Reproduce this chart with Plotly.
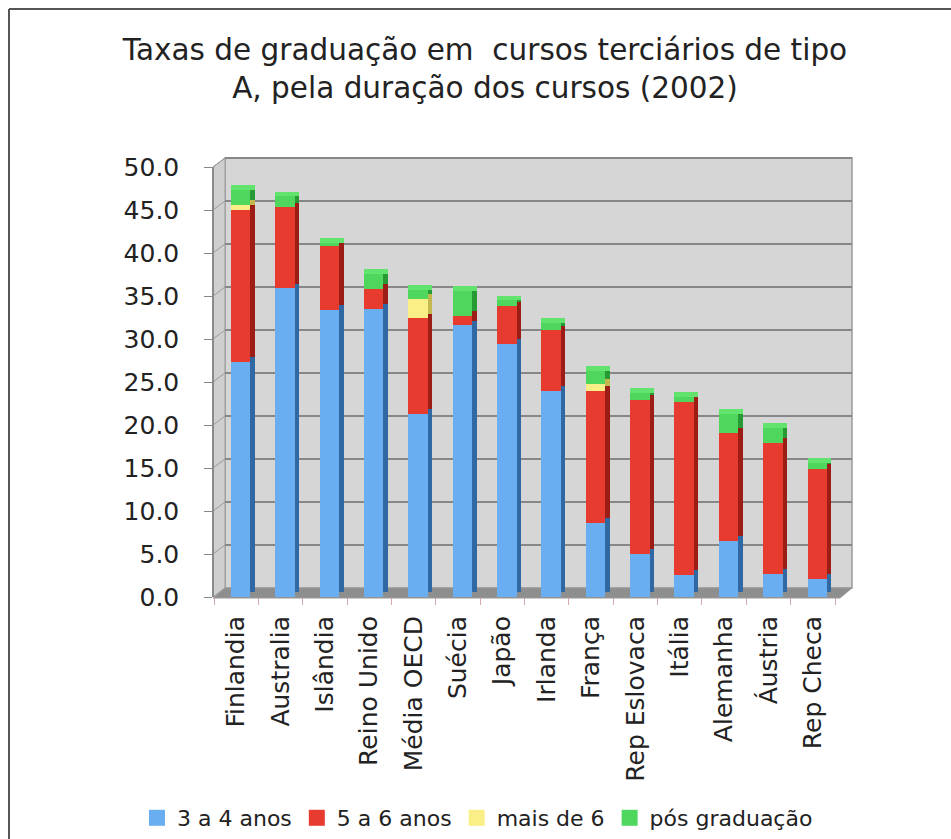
import numpy as np
import plotly.graph_objects as go

# ---------------- data ----------------
categories = ["Finlandia", "Australia", "Islândia", "Reino Unido", "Média OECD", "Suécia",
              "Japão", "Irlanda", "França", "Rep Eslovaca", "Itália", "Alemanha", "Áustria", "Rep Checa"]
anos_3_4 = [27.3, 35.9, 33.4, 33.5, 21.3, 31.6, 29.4, 24.0, 8.6, 5.0, 2.6, 6.5, 2.7, 2.1]
anos_5_6 = [17.7, 9.4, 7.4, 2.3, 11.1, 1.1, 4.4, 7.0, 15.4, 17.9, 20.1, 12.6, 15.2, 12.8]
mais_de_6 = [0.6, 0.0, 0.0, 0.0, 2.3, 0.0, 0.0, 0.0, 0.8, 0.0, 0.0, 0.0, 0.0, 0.0]
pos_grad = [1.7, 1.3, 0.4, 1.8, 1.0, 2.9, 0.7, 0.9, 1.5, 0.8, 0.6, 2.2, 1.8, 0.7]
series_names = ["3 a 4 anos", "5 a 6 anos", "mais de 6", "pós graduação"]
y_ticks = [0, 5, 10, 15, 20, 25, 30, 35, 40, 45, 50]

# ---------------- style ----------------
W, H = 951, 839
L, R, T, B = 214, 835, 167, 597            # plot area in px
front_cols = ["#6aaef2", "#e73b30", "#f9ef86", "#4fd65c"]
side_cols = ["#2f68a3", "#9c1c16", "#c2b94e", "#279a34"]
cap_col = "#62e36e"
FRONT_OFF, FRONT_W, SIDE_W = -0.12, 0.44, 0.10
DEPTH = 0.55                                 # 3D depth in value units
WALL_DX, WALL_DY = 11, 9                     # back-wall offset in px
FONT = "DejaVu Sans"


def px(x):
    return (x - L) / (R - L)


def py(y):
    return (B - y) / (B - T)


fig = go.Figure()
n = len(categories)
base = np.zeros(n)
for name, vals, fc, sc in zip(series_names, [anos_3_4, anos_5_6, mais_de_6, pos_grad],
                              front_cols, side_cols):
    v = np.array(vals, dtype=float)
    fig.add_trace(go.Bar(x=categories, y=v, base=base + DEPTH, offset=FRONT_OFF + FRONT_W,
                         width=SIDE_W, marker=dict(color=sc, line=dict(width=0)),
                         showlegend=False, hoverinfo="skip"))
    fig.add_trace(go.Bar(x=categories, y=v, base=base.copy(), offset=FRONT_OFF, width=FRONT_W,
                         marker=dict(color=fc, line=dict(width=0)), name=name,
                         legendgroup=name, showlegend=False))
    base = base + v
fig.add_trace(go.Bar(x=categories, y=[DEPTH] * n, base=base, offset=FRONT_OFF,
                     width=FRONT_W + SIDE_W, marker=dict(color=cap_col, line=dict(width=0)),
                     showlegend=False, hoverinfo="skip"))
# legend entries with larger square keys
for name, fc in zip(series_names, front_cols):
    fig.add_trace(go.Scatter(x=[None], y=[None], mode="markers", name=name, legendgroup=name,
                             marker=dict(symbol="square", size=17, color=fc, line=dict(width=0))))

shapes = []
# back wall
shapes.append(dict(type="rect", xref="paper", yref="paper", layer="below",
                   x0=px(L + WALL_DX), x1=px(R + 17), y0=py(B - WALL_DY), y1=py(T - WALL_DY),
                   fillcolor="#d6d6d6", line=dict(color="#9a9a9a", width=1.5)))
# left wall
shapes.append(dict(type="path", xref="paper", yref="paper", layer="below",
                   path=f"M{px(L-1)},{py(B)} L{px(L-1)},{py(T)} L{px(L+WALL_DX)},{py(T-WALL_DY)} "
                        f"L{px(L+WALL_DX)},{py(B-WALL_DY)} Z",
                   fillcolor="#cfcfcf", line=dict(color="#9a9a9a", width=1)))
# gridlines on back and left wall
for v in y_ticks[1:]:
    yb = py(B - WALL_DY) + v / 50 * (py(T) - py(B))
    yf = py(B) + v / 50 * (py(T) - py(B))
    shapes.append(dict(type="line", xref="paper", yref="paper", layer="below",
                       x0=px(L + WALL_DX), x1=px(R + 17), y0=yb, y1=yb,
                       line=dict(color="#878787", width=1.8)))
    shapes.append(dict(type="line", xref="paper", yref="paper", layer="below",
                       x0=px(L - 1), x1=px(L + WALL_DX), y0=yf, y1=yb,
                       line=dict(color="#9a9a9a", width=1)))
# floor
shapes.append(dict(type="path", xref="paper", yref="paper", layer="below",
                   path=f"M{px(L-1)},{py(B+1)} L{px(R+5)},{py(B+1)} L{px(R+17)},{py(B-WALL_DY)} "
                        f"L{px(L+WALL_DX)},{py(B-WALL_DY)} Z",
                   fillcolor="#8e8e8e", line=dict(color="#9a9a9a", width=1)))
# outer frame (left and top edges visible)
shapes.append(dict(type="line", xref="paper", yref="paper", x0=px(9), x1=px(9), y0=py(9), y1=py(H + 5),
                   line=dict(color="#555555", width=2)))
shapes.append(dict(type="line", xref="paper", yref="paper", x0=px(9), x1=px(W + 5), y0=py(9), y1=py(9),
                   line=dict(color="#555555", width=2)))

fig.update_layout(
    width=W, height=H,
    margin=dict(l=L, r=W - R, t=T, b=H - B, pad=0, autoexpand=False),
    paper_bgcolor="white", plot_bgcolor="rgba(0,0,0,0)",
    barmode="overlay",
    bargap=0,
    shapes=shapes,
    font=dict(family=FONT, color="#222222"),
    title=dict(text="Taxas de graduação em \u00a0cursos terciários de tipo<br>A, pela duração dos cursos (2002)",
               font=dict(size=29.5, family=FONT, color="#222222"),
               x=485 / W, xanchor="center", y=1 - 60 / H, yanchor="top"),
    xaxis=dict(type="category", range=[-0.5, n - 0.5], tickson="boundaries", ticks="outside",
               ticklen=7, tickcolor="#d4a9a9", tickwidth=1, showgrid=False, showline=False,
               tickangle=-90, tickfont=dict(size=25, family=FONT, color="#222222"),
               ticklabelstandoff=13, zeroline=False),
    yaxis=dict(range=[0, 50], tickvals=y_ticks, tickformat=".1f", ticks="outside", ticklen=8,
               tickcolor="#888888", showgrid=False, showline=True, linecolor="#8a8a8a", linewidth=1.5,
               zeroline=False, ticklabelstandoff=20,
               tickfont=dict(size=25, family=FONT, color="#222222")),
    legend=dict(orientation="h", xref="paper", yref="paper", x=px(137), xanchor="left",
                y=py(818), yanchor="middle", itemsizing="trace",
                font=dict(size=22, family=FONT, color="#222222"), bgcolor="rgba(0,0,0,0)",
                traceorder="normal"),
    showlegend=True,
)

fig.write_html("out.html", post_script="document.body.style.margin='0';",
               config={"displayModeBar": False})
